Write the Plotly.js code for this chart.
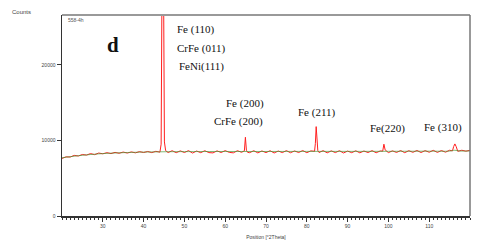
<!DOCTYPE html>
<html>
<head>
<meta charset="utf-8">
<script src="https://cdn.plot.ly/plotly-3.0.1.min.js"></script>
<style>html,body{margin:0;padding:0;background:#fff;}#chart{width:480px;height:246px;}</style>
</head>
<body>
<div id="chart"></div>
<script>
const theta = [20,21,22,23,24,25,26,27,28,29,30,31,32,33,34,35,36,37,38,39,40,41,42,43,44,
  44.3,44.5,44.7,44.9,45.1,45.4,46,47,48,49,50,51,52,53,54,55,56,57,58,59,60,61,62,63,64,
  64.7,64.95,65.2,65.5,66,67,68,69,70,71,72,73,74,75,76,77,78,79,80,81,81.9,82.1,82.3,82.5,82.7,
  83,84,85,86,87,88,89,90,91,92,93,94,95,96,97,98,98.6,98.9,99.2,99.5,100,101,102,103,104,105,
  106,107,108,109,110,111,112,113,114,115,115.7,116.0,116.3,116.6,116.9,117,118,119,120];
const counts = [7620,7830,7800,8020,7940,8140,8060,8260,8120,8330,8230,8380,8260,8420,8300,8460,8330,8480,8360,8520,8400,8540,8390,8560,8450,
  9500,30000,45000,30000,9800,8650,8400,8640,8380,8620,8400,8650,8330,8600,8380,8640,8390,8350,8620,8400,8650,8420,8360,8640,8430,
  8620,10420,8700,8420,8380,8640,8350,8610,8390,8640,8340,8600,8390,8650,8370,8610,8400,8660,8380,8620,8560,9600,11830,9800,8650,
  8400,8650,8360,8620,8390,8640,8340,8590,8380,8630,8360,8600,8400,8650,8370,8610,8580,9500,8750,8600,8390,8620,8410,8660,8380,8640,
  8430,8670,8400,8650,8440,8690,8420,8660,8450,8700,8620,9200,9540,9200,8680,8560,8700,8580,8690];
// Background fit
const bgTheta = [20,22,24,26,28,30,33,36,40,45,50,60,70,80,90,100,110,115,116.3,117.5,120];
const bgCounts = [7700,7850,7980,8090,8180,8260,8340,8400,8460,8500,8520,8540,8540,8550,8550,8560,8580,8590,8700,8600,8610];
const xTicks = [30,40,50,60,70,80,90,100,110];
const yTicks = [0,10000,20000];
const peakLabels = ["Fe (110)","CrFe (011)","FeNi(111)","Fe (200)","CrFe (200)","Fe (211)","Fe(220)","Fe (310)"];
const labelX = [47.7,47.7,48.2,59.8,56.8,77.35,95.1,108.2];
const labelY = [24640,22120,19730,14830,12450,13640,11520,11660];

const traces = [
  {x: theta, y: counts, type:'scatter', mode:'lines', line:{color:'#ff1f1f', width:1}, hoverinfo:'skip'},
  {x: bgTheta, y: bgCounts, type:'scatter', mode:'lines', line:{color:'#4c9a3a', width:0.7, shape:'spline'}, hoverinfo:'skip'}
];

const serif = 'Liberation Serif, Times New Roman, serif';
const sans = 'Liberation Sans, Arial, sans-serif';
const annotations = peakLabels.map((t,i)=>({
  text: t, x: labelX[i], y: labelY[i], xref:'x', yref:'y', xanchor:'left', yanchor:'middle',
  showarrow:false, font:{family: serif, size:11, color:'#111'}
}));
annotations.push({text:'<b>d</b>', x:32.5, y:22650, xref:'x', yref:'y', xanchor:'center', yanchor:'middle',
  showarrow:false, font:{family: serif, size:21, color:'#111'}});
annotations.push({text:'Counts', x:(10-62)/408, y:(216-12)/201, xref:'paper', yref:'paper', xanchor:'left', yanchor:'middle',
  showarrow:false, font:{family: sans, size:6, color:'#444'}});
annotations.push({text:'558-4h', x:(66-62)/408, y:(216-20)/201, xref:'paper', yref:'paper',
  xanchor:'left', yanchor:'middle', showarrow:false, font:{family: sans, size:5, color:'#555'}});

const layout = {
  width:480, height:246,
  margin:{l:62, r:10, t:15, b:30, pad:0},
  paper_bgcolor:'#fff', plot_bgcolor:'#fff',
  showlegend:false,
  xaxis:{range:[20,120], tickvals:xTicks, ticktext:xTicks.map(String), ticks:'outside', ticklen:4, tickwidth:1, tickcolor:'#333',
    minor:{dtick:1, tick0:20, ticks:'outside', ticklen:2, tickcolor:'#333', showgrid:false},
    showgrid:false, zeroline:false, showline:true, linecolor:'#333', linewidth:1.5,
    tickfont:{family: sans, size:5, color:'#444'},
    title:{text:'Position [°2Theta]', font:{family: sans, size:5, color:'#444'}, standoff:8}},
  yaxis:{range:[0,26600], tickvals:yTicks, ticktext:yTicks.map(String), ticks:'outside', ticklen:4, tickwidth:1, tickcolor:'#333',
    showgrid:false, zeroline:false, showline:true, linecolor:'#333', linewidth:1.5,
    tickfont:{family: sans, size:5, color:'#444'}},
  shapes:[
    {type:'line', xref:'paper', yref:'paper', x0:0, x1:1, y0:1, y1:1, line:{color:'#999', width:2}},
    {type:'line', xref:'paper', yref:'paper', x0:1, x1:1, y0:0, y1:1, line:{color:'#777', width:1.5}}
  ],
  annotations: annotations
};
Plotly.newPlot('chart', traces, layout, {staticPlot:true, displayModeBar:false});
</script>
</body>
</html>
